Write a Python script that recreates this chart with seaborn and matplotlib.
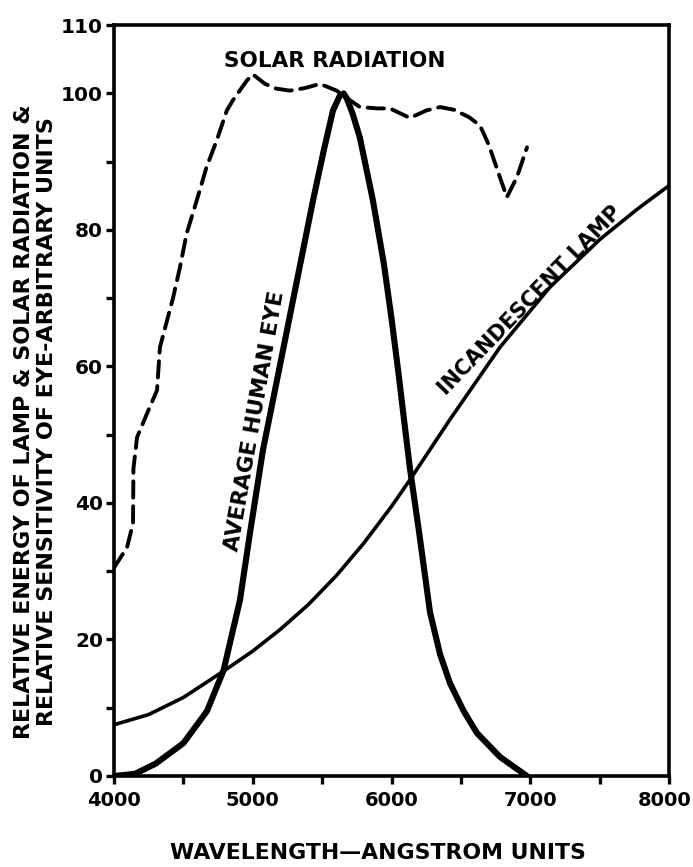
import numpy as np
import pandas as pd
import matplotlib
matplotlib.use("Agg")
import matplotlib.pyplot as plt
import matplotlib.transforms as mtransforms
import seaborn as sns

# ---- data ----
solar_x = [4000, 4022, 4094, 4137, 4140, 4166, 4238, 4310, 4331, 4425, 4475, 4524,
           4596, 4667, 4740, 4813, 4857, 4958, 5000, 5088, 5170, 5268, 5380, 5484,
           5605, 5700, 5772, 5900, 5988, 6133, 6250, 6349, 6450, 6560, 6637, 6700,
           6759, 6831, 6903, 6976]
solar_y = [30.5, 31.2, 33.5, 37.0, 45.0, 49.6, 53.1, 56.5, 62.8, 70.0, 74.5, 79.5,
           84.3, 89.2, 93.1, 97.5, 99.0, 101.9, 102.8, 101.4, 100.7, 100.4, 100.8, 101.4,
           100.4, 99.0, 98.0, 97.8, 97.8, 96.4, 97.5, 98.0, 97.6, 96.5, 95.3, 92.5,
           89.0, 84.8, 87.7, 92.1]

eye_x = [4000, 4150, 4300, 4500, 4670, 4790, 4908, 4980, 5073, 5218, 5290, 5362,
         5434, 5510, 5578, 5628, 5655, 5679, 5720, 5772, 5866, 5945, 6000, 6050,
         6100, 6133, 6200, 6277, 6350, 6421, 6520, 6615, 6781, 6975]
eye_y = [0.0, 0.3, 1.8, 4.8, 9.5, 15.5, 25.8, 35.6, 47.7, 62.4, 69.7, 77.0,
         84.3, 91.5, 97.5, 99.7, 100.0, 99.2, 97.0, 93.5, 84.3, 75.0, 67.0, 59.0,
         50.5, 45.0, 35.5, 24.0, 17.8, 13.6, 9.5, 6.3, 2.8, 0.0]

lamp_x = [4000, 4250, 4500, 4800, 5000, 5200, 5400, 5600, 5800, 6000, 6133, 6420,
          6781, 7141, 7501, 7768, 8000]
lamp_y = [7.5, 9.0, 11.5, 15.5, 18.3, 21.5, 25.1, 29.3, 34.1, 39.5, 43.4, 52.2,
          62.8, 71.6, 78.6, 83.0, 86.5]

x_ticks = [4000, 5000, 6000, 7000, 8000]
x_minor = [4500, 5500, 6500, 7500]
y_ticks = [0, 20, 40, 60, 80, 100, 110]
y_minor = [10, 30, 50, 70, 90]

sns.set_theme(style="white")
plt.rcParams['font.family'] = ['DejaVu Sans']
plt.rcParams['font.weight'] = 'bold'
plt.rcParams['text.color'] = 'black'
plt.rcParams['axes.labelcolor'] = 'black'
plt.rcParams['xtick.color'] = 'black'
plt.rcParams['ytick.color'] = 'black'

fig = plt.figure(figsize=(6.93, 8.67), dpi=100)
ax = fig.add_axes([0.1645, 0.105, 0.801, 0.866])

solar = pd.DataFrame({"x": solar_x, "y": solar_y})
eye = pd.DataFrame({"x": eye_x, "y": eye_y})
lamp = pd.DataFrame({"x": lamp_x, "y": lamp_y})

sns.lineplot(data=solar, x="x", y="y", ax=ax, sort=False, estimator=None,
             color="black", linewidth=2.8)
ax.lines[-1].set_dashes([4.2, 2.2])
ax.lines[-1].set_dash_capstyle('round')
ax.lines[-1].set_dash_joinstyle('round')
sns.lineplot(data=eye, x="x", y="y", ax=ax, sort=False, estimator=None,
             color="black", linewidth=4.4)
ax.lines[-1].set_solid_joinstyle('round')
sns.lineplot(data=lamp, x="x", y="y", ax=ax, sort=False, estimator=None,
             color="black", linewidth=2.6)
ax.lines[-1].set_solid_joinstyle('round')

ax.set_xlim(4000, 8000)
ax.set_ylim(0, 110)
ax.set_xticks(x_ticks)
ax.set_xticks(x_minor, minor=True)
ax.set_yticks(y_ticks)
ax.set_yticks(y_minor, minor=True)
ax.set_xticklabels([str(v) for v in x_ticks], fontsize=14, fontweight='bold')
ax.set_yticklabels([str(v) for v in y_ticks], fontsize=14.5, fontweight='bold')
ax.tick_params(axis='both', which='both', direction='out', length=6, width=2.4,
               color='black', bottom=True, left=True, top=False, right=False)
ax.tick_params(axis='x', which='major', pad=5)
ax.tick_params(axis='y', which='major', pad=2)
# nudge the last x tick label inward a little, as in the reference
lbl = ax.get_xticklabels()[-1]
lbl.set_transform(lbl.get_transform() + mtransforms.ScaledTranslation(-4/100, 0, fig.dpi_scale_trans))

for s in ax.spines.values():
    s.set_visible(True)
    s.set_color('black')
    s.set_linewidth(2.6)

ax.set_xlabel("")
ax.set_ylabel("")
fig.text(378/693, 1 - 853/867, "WAVELENGTH\u2014ANGSTROM UNITS", fontsize=15.8,
         fontweight='bold', ha='center', va='center')
fig.text(35.5/693, 1 - 422/867,
         "RELATIVE ENERGY OF LAMP & SOLAR RADIATION &\nRELATIVE SENSITIVITY OF EYE-ARBITRARY UNITS",
         fontsize=16, fontweight='bold', rotation=90, ha='center', va='center',
         multialignment='center', linespacing=1.15)

ax.text(5592, 104.8, "SOLAR RADIATION", fontsize=15.5, fontweight='bold',
        ha='center', va='center')
ax.text(5016, 52.0, "AVERAGE HUMAN EYE", fontsize=15.5, fontweight='bold',
        ha='center', va='center', rotation=80, rotation_mode='anchor')
ax.text(6997, 69.7, "INCANDESCENT LAMP", fontsize=15, fontweight='bold',
        ha='center', va='center', rotation=46, rotation_mode='anchor')

ax.grid(False)
fig.savefig("out.png", dpi=100, facecolor='white')
